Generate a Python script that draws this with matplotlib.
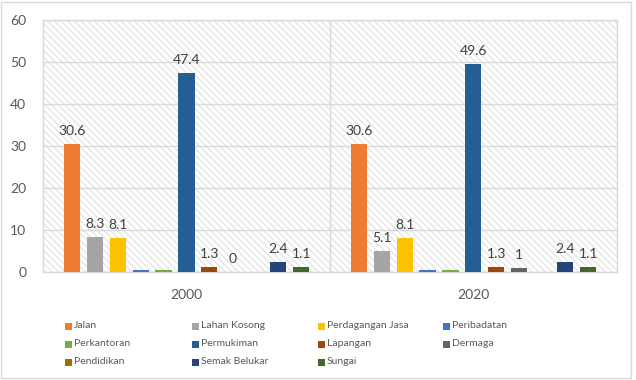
import matplotlib.pyplot as plt
from matplotlib.patches import Rectangle
import numpy as np

plt.rcParams['font.family'] = ['Lato', 'DejaVu Sans']
plt.rcParams['hatch.linewidth'] = 0.9

years = ['2000', '2020']
categories = ['Jalan', 'Lahan Kosong', 'Perdagangan Jasa', 'Peribadatan',
              'Perkantoran', 'Permukiman', 'Lapangan', 'Dermaga',
              'Pendidikan', 'Semak Belukar', 'Sungai']
values_2000 = [30.6, 8.3, 8.1, 0.5, 0.4, 47.4, 1.3, 0.0, 0.1, 2.4, 1.1]
values_2020 = [30.6, 5.1, 8.1, 0.5, 0.4, 49.6, 1.3, 1.0, 0.1, 2.4, 1.1]
labels_2000 = ['30.6', '8.3', '8.1', None, None, '47.4', '1.3', '0', None, '2.4', '1.1']
labels_2020 = ['30.6', '5.1', '8.1', None, None, '49.6', '1.3', '1', None, '2.4', '1.1']
colors = ['#ED7D31', '#A5A5A5', '#FFC000', '#4472C4', '#70AD47', '#255E91',
          '#9E480E', '#636363', '#997300', '#264478', '#43682B']

fig = plt.figure(figsize=(6.36, 3.8), dpi=100)
ax = fig.add_axes([0.0676, 0.2842, 0.9024, 0.6628])

# hatched plot background
ax.add_patch(Rectangle((0, 0), 1, 1, transform=ax.transAxes, facecolor='white',
                       edgecolor='#e3e3e3', linewidth=0, hatch='\\' * 5, zorder=0))

x = np.arange(len(years))
slot = 0.08
width = 0.056
for i, cat in enumerate(categories):
    vals = [values_2000[i], values_2020[i]]
    labs = [labels_2000[i], labels_2020[i]]
    pos = x + (i - 5) * slot
    ax.bar(pos, vals, width, color=colors[i], zorder=3)
    for p, v, lab in zip(pos, vals, labs):
        if lab is not None:
            ax.annotate(lab, (p, v), xytext=(0, 5), textcoords='offset points',
                        ha='center', va='bottom', fontsize=10, color='#404040')

ax.set_xlim(-0.5, 1.5)
ax.set_ylim(0, 60)
ax.set_yticks(range(0, 61, 10))
ax.set_xticks(x)
ax.set_xticklabels(years)
ax.set_xticks([0.5], minor=True)
ax.tick_params(axis='both', length=0, labelsize=10, labelcolor='#595959')
ax.tick_params(axis='y', pad=12)
ax.tick_params(axis='x', pad=12)
ax.tick_params(axis='x', which='minor', length=0)
ax.grid(axis='y', color='#d9d9d9', linewidth=1, zorder=1)
ax.grid(axis='x', which='minor', color='#d9d9d9', linewidth=1, zorder=1)
for s in ax.spines.values():
    s.set_color('#d9d9d9')
    s.set_linewidth(1)

# legend, 4 columns filled row by row
W, H = 636, 380
col_x = [65, 192, 318, 443]
row_y = [326, 344, 362]
for k, (cat, c) in enumerate(zip(categories, colors)):
    px = col_x[k % 4]
    py = row_y[k // 4]
    fig.add_artist(Rectangle((px / W, 1 - (py + 3.5) / H), 7 / W, 7 / H,
                             transform=fig.transFigure, facecolor=c, edgecolor='none'))
    fig.text((px + 9) / W, 1 - py / H, cat, fontsize=7.5, color='#595959',
             ha='left', va='center')

fig.add_artist(Rectangle((0.002, 0.004), 0.99, 0.99, transform=fig.transFigure,
                         facecolor='none', edgecolor='#d9d9d9', linewidth=1))

fig.savefig('out.png', dpi=100)
